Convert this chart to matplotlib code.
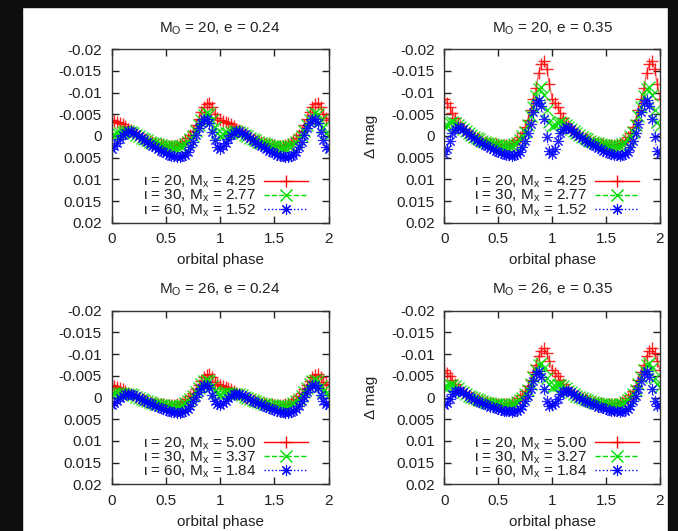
import numpy as np
import matplotlib
matplotlib.use("Agg")
import matplotlib.pyplot as plt
from matplotlib.patches import Rectangle

plt.rcParams['font.family'] = ['Liberation Sans', 'DejaVu Sans']
plt.rcParams['mathtext.fontset'] = 'custom'
plt.rcParams['mathtext.rm'] = 'Liberation Sans'
plt.rcParams['mathtext.it'] = 'Liberation Sans:italic'
plt.rcParams['font.size'] = 11

# one orbital period (phase 0 .. 0.975), the figure shows it twice
phase = np.arange(0, 1, 0.025)

# M_O = 20, e = 0.24
tl_red = [-0.0038, -0.0035, -0.0033, -0.0030, -0.0027, -0.0023, -0.0017, -0.0013, -0.0009, -0.0004,
          0.0000, 0.0004, 0.0007, 0.0010, 0.0012, 0.0014, 0.0016, 0.0018, 0.0019, 0.0020,
          0.0021, 0.0022, 0.0022, 0.0022, 0.0021, 0.0019, 0.0016, 0.0011, 0.0005, -0.0003,
          -0.0012, -0.0025, -0.0040, -0.0055, -0.0066, -0.0074, -0.0077, -0.0068, -0.0050, -0.0041]
tl_green = [-0.0001, -0.0004, -0.0006, -0.0008, -0.0010, -0.0011, -0.0011, -0.0010, -0.0007, -0.0003,
            0.0000, 0.0004, 0.0007, 0.0010, 0.0013, 0.0015, 0.0017, 0.0019, 0.0021, 0.0022,
            0.0023, 0.0024, 0.0025, 0.0025, 0.0025, 0.0024, 0.0022, 0.0018, 0.0013, 0.0007,
            -0.0001, -0.0012, -0.0025, -0.0038, -0.0048, -0.0054, -0.0050, -0.0038, -0.0020, -0.0007]
tl_blue = [0.0029, 0.0024, 0.0015, 0.0006, -0.0002, -0.0008, -0.0011, -0.0011, -0.0008, -0.0004,
           0.0000, 0.0005, 0.0009, 0.0014, 0.0018, 0.0022, 0.0026, 0.0030, 0.0034, 0.0037,
           0.0040, 0.0043, 0.0045, 0.0047, 0.0048, 0.0048, 0.0047, 0.0043, 0.0036, 0.0026,
           0.0013, -0.0002, -0.0018, -0.0031, -0.0039, -0.0040, -0.0030, -0.0010, 0.0010, 0.0025]

# M_O = 20, e = 0.35
tr_red = [-0.0085, -0.0076, -0.0066, -0.0054, -0.0042, -0.0030, -0.0022, -0.0016, -0.0011, -0.0006,
          -0.0002, 0.0002, 0.0005, 0.0008, 0.0011, 0.0013, 0.0015, 0.0017, 0.0018, 0.0019,
          0.0020, 0.0021, 0.0021, 0.0021, 0.0020, 0.0018, 0.0015, 0.0010, 0.0003, -0.0007,
          -0.0020, -0.0038, -0.0060, -0.0085, -0.0110, -0.0145, -0.0165, -0.0173, -0.0155, -0.0120]
tr_green = [-0.0022, -0.0026, -0.0030, -0.0032, -0.0030, -0.0026, -0.0021, -0.0016, -0.0011, -0.0006,
            -0.0002, 0.0002, 0.0005, 0.0008, 0.0011, 0.0013, 0.0015, 0.0017, 0.0019, 0.0020,
            0.0021, 0.0022, 0.0023, 0.0023, 0.0023, 0.0022, 0.0019, 0.0015, 0.0009, 0.0001,
            -0.0010, -0.0025, -0.0045, -0.0068, -0.0092, -0.0108, -0.0112, -0.0095, -0.0060, -0.0032]
tr_blue = [0.0042, 0.0030, 0.0012, -0.0006, -0.0016, -0.0020, -0.0019, -0.0015, -0.0010, -0.0005,
           0.0000, 0.0005, 0.0009, 0.0013, 0.0017, 0.0021, 0.0024, 0.0028, 0.0031, 0.0034,
           0.0037, 0.0039, 0.0041, 0.0043, 0.0044, 0.0045, 0.0044, 0.0042, 0.0036, 0.0026,
           0.0012, -0.0006, -0.0028, -0.0055, -0.0075, -0.0083, -0.0070, -0.0040, 0.0002, 0.0035]

# M_O = 26, e = 0.24
bl_red = [-0.0029, -0.0027, -0.0025, -0.0023, -0.0020, -0.0016, -0.0011, -0.0008, -0.0005, -0.0002,
          0.0001, 0.0004, 0.0006, 0.0008, 0.0010, 0.0012, 0.0013, 0.0014, 0.0015, 0.0016,
          0.0017, 0.0017, 0.0017, 0.0017, 0.0016, 0.0015, 0.0012, 0.0008, 0.0003, -0.0003,
          -0.0010, -0.0019, -0.0029, -0.0039, -0.0047, -0.0052, -0.0053, -0.0047, -0.0036, -0.0031]
bl_green = [-0.0009, -0.0010, -0.0010, -0.0010, -0.0010, -0.0009, -0.0008, -0.0007, -0.0005, -0.0002,
            0.0001, 0.0004, 0.0006, 0.0008, 0.0011, 0.0013, 0.0014, 0.0016, 0.0017, 0.0018,
            0.0019, 0.0020, 0.0020, 0.0020, 0.0020, 0.0019, 0.0017, 0.0013, 0.0009, 0.0003,
            -0.0004, -0.0012, -0.0022, -0.0031, -0.0038, -0.0041, -0.0037, -0.0027, -0.0015, -0.0010]
bl_blue = [0.0017, 0.0013, 0.0008, 0.0002, -0.0003, -0.0007, -0.0008, -0.0008, -0.0006, -0.0003,
           0.0000, 0.0004, 0.0007, 0.0010, 0.0013, 0.0016, 0.0019, 0.0022, 0.0025, 0.0027,
           0.0029, 0.0031, 0.0033, 0.0034, 0.0035, 0.0035, 0.0034, 0.0031, 0.0026, 0.0019,
           0.0009, -0.0002, -0.0013, -0.0022, -0.0028, -0.0029, -0.0021, -0.0006, 0.0008, 0.0016]

# M_O = 26, e = 0.35
br_red = [-0.0063, -0.0057, -0.0049, -0.0040, -0.0031, -0.0023, -0.0017, -0.0012, -0.0008, -0.0004,
          -0.0001, 0.0002, 0.0004, 0.0006, 0.0008, 0.0010, 0.0011, 0.0012, 0.0013, 0.0014,
          0.0015, 0.0015, 0.0015, 0.0015, 0.0014, 0.0013, 0.0011, 0.0007, 0.0002, -0.0005,
          -0.0014, -0.0026, -0.0041, -0.0058, -0.0076, -0.0095, -0.0108, -0.0113, -0.0102, -0.0083]
br_green = [-0.0024, -0.0027, -0.0029, -0.0029, -0.0026, -0.0021, -0.0016, -0.0012, -0.0008, -0.0004,
            -0.0001, 0.0002, 0.0004, 0.0006, 0.0008, 0.0010, 0.0012, 0.0013, 0.0014, 0.0015,
            0.0016, 0.0017, 0.0017, 0.0017, 0.0017, 0.0016, 0.0014, 0.0011, 0.0006, 0.0000,
            -0.0008, -0.0018, -0.0031, -0.0047, -0.0064, -0.0076, -0.0080, -0.0068, -0.0045, -0.0030]
br_blue = [0.0018, 0.0012, 0.0003, -0.0007, -0.0014, -0.0016, -0.0015, -0.0012, -0.0008, -0.0004,
           0.0000, 0.0004, 0.0007, 0.0010, 0.0013, 0.0016, 0.0018, 0.0021, 0.0023, 0.0025,
           0.0027, 0.0029, 0.0030, 0.0031, 0.0032, 0.0033, 0.0032, 0.0030, 0.0026, 0.0019,
           0.0009, -0.0004, -0.0020, -0.0038, -0.0053, -0.0060, -0.0048, -0.0020, 0.0008, 0.0020]

titles = ['M$_\\mathregular{O}$ = 20, e = 0.24', 'M$_\\mathregular{O}$ = 20, e = 0.35',
          'M$_\\mathregular{O}$ = 26, e = 0.24', 'M$_\\mathregular{O}$ = 26, e = 0.35']
inclinations = [20, 30, 60]
mx_tl = ['4.25', '2.77', '1.52']
mx_tr = ['4.25', '2.77', '1.52']
mx_bl = ['5.00', '3.37', '1.84']
mx_br = ['5.00', '3.27', '1.84']

yticks = [-0.02, -0.015, -0.01, -0.005, 0, 0.005, 0.01, 0.015, 0.02]
ytick_labels = ['-0.02', '-0.015', '-0.01', '-0.005', '0', '0.005', '0.01', '0.015', '0.02']
xticks = [0, 0.5, 1, 1.5, 2]
xtick_labels = ['0', '0.5', '1', '1.5', '2']

colors = ['#ff0000', '#00dd00', '#0000ff']
markers = ['+', 'x', (8, 2, 0)]
styles = ['-', '--', ':']
mews = [1.0, 1.0, 0.8]

fig = plt.figure(figsize=(6.78, 5.31), dpi=100)
W, H = 678, 531


def box(l, t, r, b):
    return [l / W, 1 - b / H, (r - l) / W, (b - t) / H]


rects = [box(111.7, 49.3, 328.7, 222.7), box(444.3, 49.3, 660, 222.7),
         box(111.7, 310.7, 328.7, 484.3), box(444.3, 310.7, 660, 484.3)]
panels = [(tl_red, tl_green, tl_blue), (tr_red, tr_green, tr_blue),
          (bl_red, bl_green, bl_blue), (br_red, br_green, br_blue)]
mx_all = [mx_tl, mx_tr, mx_bl, mx_br]

x_full = np.concatenate([phase, phase + 1, [2.0]])

for k in range(4):
    ax = fig.add_axes(rects[k])
    for j in range(3):
        v = np.array(panels[k][j])
        y_full = np.concatenate([v, v, v[:1]])
        lab = '\u03b9 = %d, M$_\\mathregular{x}$ = %s' % (inclinations[j], mx_all[k][j])
        ax.plot(x_full, y_full, linestyle=styles[j], color=colors[j], lw=1.0, alpha=0.55,
                label='_nolegend_')
        ax.plot(x_full, y_full, linestyle='none', marker=markers[j], color=colors[j],
                ms=8, mew=mews[j], alpha=0.85, label='_nolegend_')
        # legend proxy: line + single marker
        ax.plot([], [], linestyle=styles[j], color=colors[j], lw=1.0, marker=markers[j],
                ms=8, mew=mews[j], label=lab)
    ax.set_xlim(0, 2)
    ax.set_ylim(0.02, -0.02)
    ax.set_yticks(yticks)
    ax.set_yticklabels(ytick_labels)
    ax.set_xticks(xticks)
    ax.set_xticklabels(xtick_labels)
    ax.tick_params(direction='in', length=5, width=1, top=True, right=True,
                   labelsize=11, pad=7, colors='#222222', labelcolor='#222222')
    for s in ax.spines.values():
        s.set_color('#333333')
        s.set_linewidth(1)
    ax.set_title(titles[k], fontsize=11, pad=12, color='#222222')
    ax.set_xlabel('orbital phase', fontsize=11, labelpad=5, color='#222222')
    if k % 2 == 1:
        ax.set_ylabel('\u0394 mag', fontsize=11, labelpad=10, color='#222222')
    leg = ax.legend(loc='lower right', bbox_to_anchor=(0.94, -0.02), frameon=False,
                    markerfirst=False, numpoints=1, handlelength=2.9, handletextpad=0.5,
                    labelspacing=-0.15, borderpad=0, fontsize=11)
    for t in leg.get_texts():
        t.set_color('#222222')

# dark frame around the screenshot
dark = '#0e0e0e'
fig.add_artist(Rectangle((0, 0), 22 / W, 1, transform=fig.transFigure, color=dark, zorder=10))
fig.add_artist(Rectangle((0, 1 - 7 / H), 1, 7 / H, transform=fig.transFigure, color=dark, zorder=10))
fig.add_artist(Rectangle((668 / W, 0), 10 / W, 1, transform=fig.transFigure, color=dark, zorder=10))

fig.savefig('out.png', dpi=100)
